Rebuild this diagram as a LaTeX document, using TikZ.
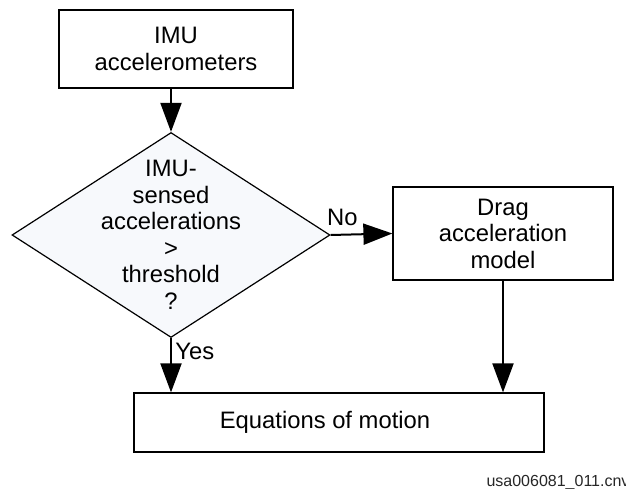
\documentclass[tikz,border=0pt]{standalone}
\usepackage{fontspec}
\setmainfont{Liberation Sans}
\usetikzlibrary{shapes.geometric, arrows.meta}
\definecolor{decisionfill}{RGB}{247,249,252}

\begin{document}
\begin{tikzpicture}[x = 1pt, y = -1pt,
    every node/.style = {font = \fontsize{23.8}{26.5}\selectfont, align = center},
    block/.style = {draw, line width = 1.2pt, inner sep = 0pt},
    decision/.style = {diamond, draw, line width = 1.2pt, fill = decisionfill,
        inner sep = 0pt, minimum width = 318pt, minimum height = 205pt},
    flow/.style = {line width = 2pt, -{Triangle[length = 29pt, width = 21pt]}}]
    \useasboundingbox (0,0) rectangle (626,489);
    \node[block, minimum width = 234pt, minimum height = 78pt] (imu) at (176,49) {IMU\\accelerometers};
    \node[decision] (test) at (171,235) {};
    \node (testtext) at (test.center) {IMU-\\sensed\\accelerations\\>\\threshold\\?};
    \node[block, minimum width = 220pt, minimum height = 93pt] (drag) at (503,233.5) {Drag\\acceleration\\model};
    \node[block, minimum width = 410pt, minimum height = 59pt] (eom) at (339,422.5) {Equations of motion\hspace{28pt}};
    \node[anchor = west, font = \fontsize{16}{19}\selectfont, text = black!85] (fileid) at (483,482) {usa006081\_011.cnv};
    \draw[flow] (test.north |- imu.south) -- (test.north);
    \draw[flow] (test.east) -- node[above = 5pt, pos = 0.19] {No} (drag.west);
    \draw[flow] (test.south) -- node[right, pos = 0.25] {Yes} (test.south |- eom.north);
    \draw[flow] (drag.south) -- (drag.south |- eom.north);
\end{tikzpicture}
\end{document}
